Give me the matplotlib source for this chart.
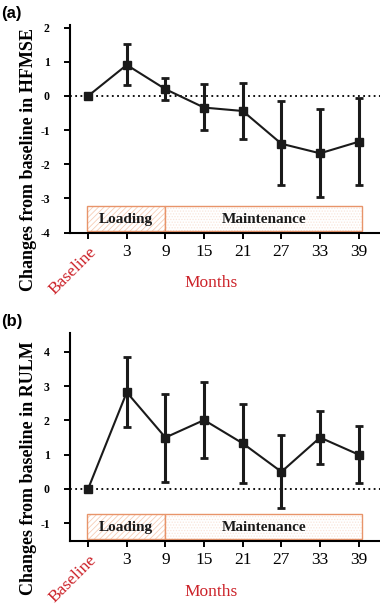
import matplotlib

matplotlib.use("Agg")
import matplotlib.pyplot as plt
from matplotlib.patches import Rectangle

# --- data ---
months = ["Baseline", "3", "9", "15", "21", "27", "33", "39"]

hfmse_mean = [0.0, 0.91, 0.20, -0.34, -0.44, -1.40, -1.68, -1.34]
hfmse_low = [0.0, 0.31, -0.12, -1.00, -1.25, -2.60, -2.96, -2.60]
hfmse_high = [0.0, 1.51, 0.54, 0.34, 0.37, -0.15, -0.37, -0.07]

rulm_mean = [0.0, 2.82, 1.50, 2.01, 1.33, 0.50, 1.50, 1.00]
rulm_low = [0.0, 1.82, 0.21, 0.89, 0.18, -0.56, 0.74, 0.18]
rulm_high = [0.0, 3.84, 2.78, 3.12, 2.48, 1.56, 2.27, 1.83]

phases = ["Loading", "Maintenance"]
phase_start = [-0.04, 2.0]
phase_end = [2.0, 7.09]

RED = "#cc2229"
ORANGE = "#e8946a"
SERIF = "Liberation Serif"

plt.rcParams["hatch.linewidth"] = 0.6


def panel(ax, mean, low, high, ylim, yticks, box_y, ylabel, tag):
    x = list(range(len(months)))
    yerr = [[m - l for m, l in zip(mean, low)], [h - m for m, h in zip(mean, high)]]
    ax.axhline(0, color="black", lw=1.3, ls=(0, (1, 1.9)), zorder=1)
    ax.errorbar(x[1:], mean[1:], yerr=[yerr[0][1:], yerr[1][1:]], fmt="none",
                ecolor="#1a1a1a", elinewidth=2.2, capsize=2.9, capthick=2, zorder=3)
    ax.plot(x, mean, color="#1a1a1a", lw=1.5, marker="s", ms=5.8, zorder=4)

    # phase boxes
    hatches = ["//////", "......"]
    hcolors = ["#f6cdb6", "#f9e6dc"]
    for name, x0, x1, h, hc in zip(phases, phase_start, phase_end, hatches, hcolors):
        ax.add_patch(Rectangle((x0, box_y[0]), x1 - x0, box_y[1] - box_y[0],
                               facecolor="white", edgecolor=hc, lw=0, hatch=h, zorder=2))
        ax.add_patch(Rectangle((x0, box_y[0]), x1 - x0, box_y[1] - box_y[0],
                               facecolor="none", edgecolor=ORANGE, lw=1.0, zorder=2))
        ax.text((x0 + x1) / 2, sum(box_y) / 2 - 0.02, name, ha="center", va="center",
                family=SERIF, fontweight="bold", fontsize=11, color="#1a1a1a", zorder=5)

    ax.set_xlim(-0.47, 7.55)
    ax.set_ylim(*ylim)
    ax.set_yticks(yticks)
    ax.set_yticklabels([str(t) for t in yticks], family=SERIF, fontweight="bold",
                       fontsize=8.5)
    ax.set_xticks(x)
    ax.set_xticklabels(months, family=SERIF, fontsize=12.5)
    lab = ax.get_xticklabels()[0]
    lab.set_color(RED)
    lab.set_rotation(45)
    lab.set_rotation_mode("anchor")
    lab.set_ha("right")
    lab.set_va("top")
    ax.tick_params(axis="x", length=4, width=1.4, pad=4.5)
    ax.tick_params(axis="y", length=4, width=1.4, pad=10.5)
    for s in ("top", "right"):
        ax.spines[s].set_visible(False)
    for s in ("left", "bottom"):
        ax.spines[s].set_linewidth(1.5)

    ax.text(0.455, -0.245, "Months", transform=ax.transAxes, ha="center", va="center",
            family=SERIF, fontsize=12.5, color=RED)
    ax.text(-0.135, 0.35, ylabel, transform=ax.transAxes, ha="center", va="center",
            rotation=90, family=SERIF, fontweight="bold", fontsize=13)
    ax.text(-0.222, 1.09, tag, transform=ax.transAxes, ha="left", va="top",
            family="Liberation Sans", fontweight="bold", fontsize=12)


fig = plt.figure(figsize=(3.8, 6.05), dpi=100)
ax1 = fig.add_axes([0.184, 0.6157, 0.816, 0.343])
ax2 = fig.add_axes([0.184, 0.1063, 0.816, 0.3433])

panel(ax1, hfmse_mean, hfmse_low, hfmse_high, (-4, 2.08), [-4, -3, -2, -1, 0, 1, 2],
      (-3.96, -3.23), "Changes from baseline in HFMSE", "(a)")
panel(ax2, rulm_mean, rulm_low, rulm_high, (-1.51, 4.55), [-1, 0, 1, 2, 3, 4],
      (-1.46, -0.73), "Changes from baseline in RULM", "(b)")

fig.savefig("out.png", dpi=100)
